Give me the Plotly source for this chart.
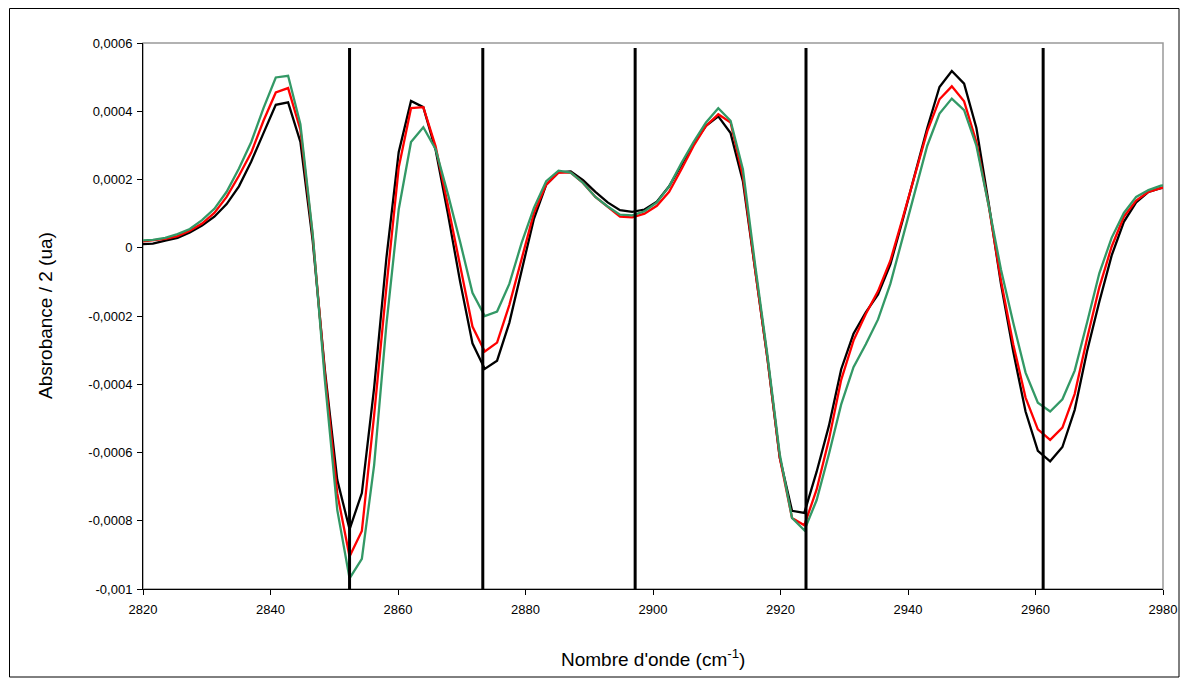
import plotly.graph_objects as go

# Wavenumbers (cm-1)
wavenumber = [2819.62, 2821.55, 2823.48, 2825.41, 2827.34, 2829.26, 2831.19, 2833.12, 2835.05, 2836.98,
              2838.90, 2840.83, 2842.76, 2844.69, 2846.62, 2848.54, 2850.47, 2852.40, 2854.33, 2856.26,
              2858.18, 2860.11, 2862.04, 2863.97, 2865.90, 2867.82, 2869.75, 2871.68, 2873.61, 2875.54,
              2877.46, 2879.39, 2881.32, 2883.25, 2885.18, 2887.10, 2889.03, 2890.96, 2892.89, 2894.82,
              2896.74, 2898.67, 2900.60, 2902.53, 2904.46, 2906.38, 2908.31, 2910.24, 2912.17, 2914.10,
              2916.02, 2917.95, 2919.88, 2921.81, 2923.74, 2925.66, 2927.59, 2929.52, 2931.45, 2933.38,
              2935.30, 2937.23, 2939.16, 2941.09, 2943.02, 2944.94, 2946.87, 2948.80, 2950.73, 2952.66,
              2954.58, 2956.51, 2958.44, 2960.37, 2962.30, 2964.22, 2966.15, 2968.08, 2970.01, 2971.94,
              2973.86, 2975.79, 2977.72, 2979.65, 2981.58]

# Absorbance / 2, in units of 1e-4
black_e4 = [0.10, 0.12, 0.21, 0.29, 0.45, 0.65, 0.91, 1.28, 1.80, 2.53,
            3.36, 4.19, 4.26, 3.10, 0.20, -3.60, -6.80, -8.25, -7.19, -4.10,
            -0.30, 2.80, 4.30, 4.12, 2.87, 1.00, -1.00, -2.80, -3.55, -3.31,
            -2.20, -0.72, 0.85, 1.85, 2.21, 2.24, 1.98, 1.64, 1.33, 1.10,
            1.05, 1.12, 1.35, 1.80, 2.42, 3.05, 3.57, 3.85, 3.36, 1.95,
            -0.64, -3.24, -6.15, -7.71, -7.77, -6.57, -5.22, -3.56, -2.52, -1.89,
            -1.37, -0.49, 0.81, 2.16, 3.51, 4.71, 5.18, 4.81, 3.51, 1.30,
            -1.06, -3.04, -4.80, -5.95, -6.26, -5.84, -4.75, -3.04, -1.58, -0.23,
            0.76, 1.33, 1.64, 1.75, 1.80]

red_e4 = [0.18, 0.21, 0.26, 0.34, 0.50, 0.71, 1.02, 1.49, 2.11, 2.79,
          3.72, 4.55, 4.68, 3.46, 0.35, -3.70, -7.20, -9.05, -8.30, -4.90,
          -1.16, 2.35, 4.09, 4.12, 2.97, 1.25, -0.58, -2.31, -3.04, -2.78,
          -1.68, -0.33, 1.02, 1.85, 2.21, 2.20, 1.90, 1.49, 1.21, 0.91,
          0.89, 1.00, 1.23, 1.64, 2.30, 2.99, 3.57, 3.91, 3.67, 2.10,
          -0.64, -3.24, -6.15, -7.92, -8.13, -7.09, -5.63, -3.87, -2.72, -1.94,
          -1.27, -0.38, 0.86, 2.16, 3.41, 4.35, 4.73, 4.29, 3.10, 1.23,
          -0.96, -2.83, -4.39, -5.32, -5.63, -5.27, -4.28, -2.67, -1.16, 0.03,
          0.91, 1.38, 1.64, 1.75, 1.80]

green_e4 = [0.21, 0.23, 0.29, 0.40, 0.55, 0.81, 1.14, 1.64, 2.32, 3.10,
            4.09, 4.99, 5.04, 3.62, 0.40, -3.90, -7.68, -9.69, -9.12, -6.36,
            -2.25, 1.12, 3.10, 3.53, 2.89, 1.58, 0.17, -1.32, -2.00, -1.87,
            -1.06, 0.14, 1.17, 1.95, 2.26, 2.20, 1.90, 1.49, 1.21, 0.97,
            0.95, 1.07, 1.33, 1.80, 2.48, 3.10, 3.67, 4.09, 3.72, 2.30,
            -0.50, -3.15, -6.05, -7.92, -8.28, -7.40, -6.05, -4.59, -3.50, -2.83,
            -2.10, -1.06, 0.29, 1.64, 2.99, 3.93, 4.37, 4.03, 2.99, 1.23,
            -0.64, -2.20, -3.66, -4.54, -4.80, -4.44, -3.60, -2.20, -0.75, 0.29,
            1.02, 1.49, 1.69, 1.82, 1.85]

# Band positions marked by vertical lines (cm-1)
band_positions = [2852.4, 2873.3, 2897.2, 2924.0, 2961.2]
band_y = [-0.001, 0.000585]

x_ticks = [2820, 2840, 2860, 2880, 2900, 2920, 2940, 2960, 2980]
y_ticks = [-0.001, -0.0008, -0.0006, -0.0004, -0.0002, 0, 0.0002, 0.0004, 0.0006]
y_tick_text = ["-0,001", "-0,0008", "-0,0006", "-0,0004", "-0,0002", "0", "0,0002", "0,0004", "0,0006"]

series = [
    ("black", black_e4, "#000000"),
    ("red", red_e4, "#FF0000"),
    ("green", green_e4, "#339966"),
]

fig = go.Figure()
for name, vals, col in series:
    fig.add_trace(go.Scatter(
        x=wavenumber, y=[v * 1e-4 for v in vals], mode="lines", name=name,
        line=dict(color=col, width=2.3), showlegend=False,
    ))

for bp in band_positions:
    fig.add_trace(go.Scatter(
        x=[bp, bp], y=band_y, mode="lines",
        line=dict(color="#000000", width=3), showlegend=False,
    ))

font_family = "Liberation Sans, Arial, sans-serif"

# figure is drawn at an 8px page offset; layout expressed in figure pixels
W, H = 1181, 676
L, R, T, B = 135, 26, 35, 95
pw, ph = W - L - R, H - T - B


def px_x(fx):
    return (fx - L) / pw


def px_y(fy):
    return (H - B - fy) / ph


fig.update_layout(
    width=W, height=H,
    margin=dict(l=L, r=R, t=T, b=B),
    paper_bgcolor="white", plot_bgcolor="white",
    font=dict(family=font_family, color="#000000", size=13),
    xaxis=dict(
        range=[2820, 2980], tickvals=x_ticks, ticktext=[str(t) for t in x_ticks],
        showgrid=False, zeroline=False, showline=True, linecolor="#000000", linewidth=1,
        ticks="outside", ticklen=5, tickcolor="#000000", tickwidth=1,
        tickfont=dict(size=13, family=font_family), ticklabelstandoff=3,
    ),
    yaxis=dict(
        range=[-0.001, 0.0006], tickvals=y_ticks, ticktext=y_tick_text,
        showgrid=False, zeroline=False, showline=True, linecolor="#000000", linewidth=1,
        ticks="outside", ticklen=5, tickcolor="#000000", tickwidth=1,
        tickfont=dict(size=13, family=font_family), ticklabelstandoff=2,
    ),
    shapes=[
        dict(type="rect", xref="paper", yref="paper", x0=0, x1=1, y0=0, y1=1,
             line=dict(color="#999999", width=1.5), layer="below"),
        dict(type="rect", xref="paper", yref="paper",
             x0=px_x(1.5), x1=px_x(1171), y0=px_y(669), y1=px_y(0.5),
             line=dict(color="#000000", width=1), layer="below"),
    ],
    annotations=[
        dict(text="Nombre d'onde (cm<sup>-1</sup>)", xref="paper", yref="paper",
             x=0.5, y=px_y(650), xanchor="center", yanchor="middle",
             showarrow=False, font=dict(size=19, family=font_family)),
        dict(text="Absrobance / 2 (ua)", xref="paper", yref="paper",
             x=px_x(37), y=0.5, xanchor="center", yanchor="middle",
             textangle=-90, showarrow=False, font=dict(size=19, family=font_family)),
    ],
)

fig.write_html("out.html")
